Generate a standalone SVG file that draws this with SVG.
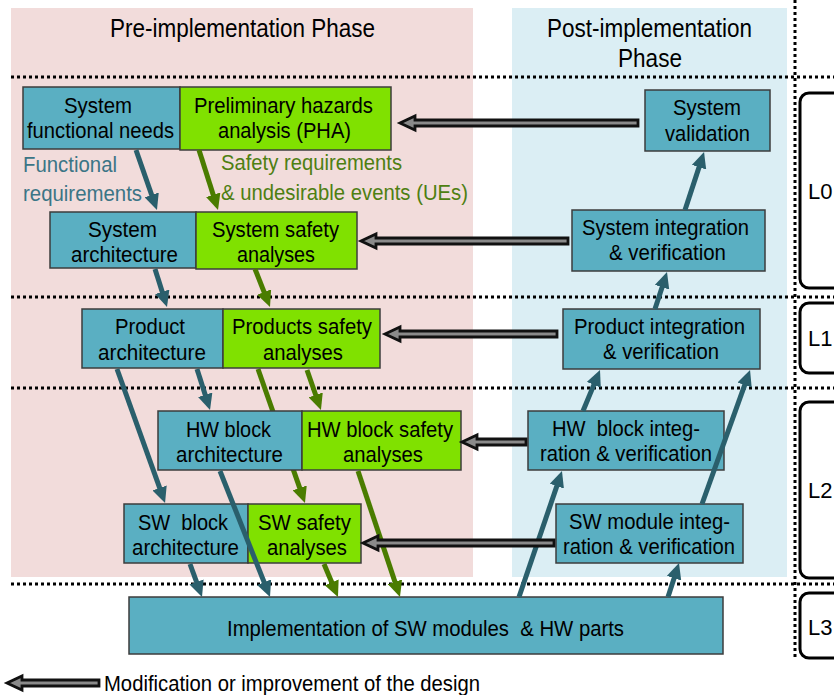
<svg xmlns="http://www.w3.org/2000/svg" width="834" height="695" viewBox="0 0 834 695">
<defs>
<style>
text{font-family:"Liberation Sans",Arial,sans-serif;fill:#000;white-space:pre}
.t{font-size:22px}
.h{font-size:26px}
.b{fill:#5aafc2;stroke:#3c3c3c;stroke-width:1.5}
.g{fill:#80e100;stroke:#3c3c3c;stroke-width:1.5}
.dot{stroke:#000;stroke-width:3;stroke-dasharray:3 3;fill:none}
.br{fill:none;stroke:#000;stroke-width:3}
.ta{stroke:#2a5f6c;stroke-width:5;fill:none;marker-end:url(#mt)}
.ga{stroke:#4a7c00;stroke-width:5;fill:none;marker-end:url(#mg)}
.mod{fill:#8a8a8a;stroke:#111;stroke-width:2.8;stroke-linejoin:miter}
</style>
<marker id="mt" markerUnits="userSpaceOnUse" markerWidth="16" markerHeight="15" viewBox="0 0 16 15" refX="4" refY="7.5" orient="auto"><path d="M0,0 L16,7.5 L0,15 z" fill="#2a5f6c"/></marker>
<marker id="mg" markerUnits="userSpaceOnUse" markerWidth="16" markerHeight="15" viewBox="0 0 16 15" refX="4" refY="7.5" orient="auto"><path d="M0,0 L16,7.5 L0,15 z" fill="#4a7c00"/></marker>
</defs>
<rect width="834" height="695" fill="#fff"/>
<g id="phases">
<rect x="11" y="8" width="462" height="569" fill="#f2dcdb"/>
<rect x="512" y="8" width="275" height="569" fill="#dbeef4"/>
<text class="h" x="110" y="37" textLength="265" lengthAdjust="spacingAndGlyphs">Pre-implementation Phase</text>
<text class="h" x="547" y="37" textLength="205" lengthAdjust="spacingAndGlyphs">Post-implementation</text>
<text class="h" x="618" y="67" textLength="64" lengthAdjust="spacingAndGlyphs">Phase</text>
</g>
<g id="levels">
<line class="dot" x1="11" y1="77" x2="834" y2="77"/>
<line class="dot" x1="11" y1="297" x2="834" y2="297"/>
<line class="dot" x1="11" y1="388" x2="834" y2="388"/>
<line class="dot" x1="11" y1="584" x2="834" y2="584"/>
<line class="dot" x1="795" y1="0" x2="795" y2="660"/>
<rect class="br" x="800" y="93" width="50" height="195" rx="9"/>
<rect class="br" x="800" y="303" width="50" height="70" rx="9"/>
<rect class="br" x="800" y="402" width="50" height="176" rx="9"/>
<rect class="br" x="800" y="593" width="50" height="65" rx="9"/>
<text class="t" x="808" y="199">L0</text>
<text class="t" x="808" y="346">L1</text>
<text class="t" x="808" y="498">L2</text>
<text class="t" x="808" y="635">L3</text>
</g>
<g id="connectors-back">
<line class="ga" x1="258" y1="369" x2="301" y2="491.7"/>
</g>
<g id="n1"><rect class="b" x="23" y="87" width="157" height="62"/>
<text class="t" x="64" y="113" textLength="68" lengthAdjust="spacingAndGlyphs">System</text>
<text class="t" x="27" y="138" textLength="147" lengthAdjust="spacingAndGlyphs">functional needs</text></g>
<g id="n2"><rect class="g" x="180" y="87" width="211" height="63"/>
<text class="t" x="194" y="113" textLength="179" lengthAdjust="spacingAndGlyphs">Preliminary hazards</text>
<text class="t" x="218" y="138" textLength="133" lengthAdjust="spacingAndGlyphs">analysis (PHA)</text></g>
<g id="n3"><rect class="b" x="50" y="212" width="146" height="56"/>
<text class="t" x="88" y="237" textLength="69" lengthAdjust="spacingAndGlyphs">System</text>
<text class="t" x="71" y="262" textLength="107" lengthAdjust="spacingAndGlyphs">architecture</text></g>
<g id="n4"><rect class="g" x="196" y="212" width="161" height="57"/>
<text class="t" x="212" y="237" textLength="127" lengthAdjust="spacingAndGlyphs">System safety</text>
<text class="t" x="237" y="262" textLength="78" lengthAdjust="spacingAndGlyphs">analyses</text></g>
<g id="n5"><rect class="b" x="645" y="90" width="125" height="61"/>
<text class="t" x="673" y="115" textLength="68" lengthAdjust="spacingAndGlyphs">System</text>
<text class="t" x="665" y="141" textLength="85" lengthAdjust="spacingAndGlyphs">validation</text></g>
<g id="n6"><rect class="b" x="572" y="210" width="193" height="61"/>
<text class="t" x="582" y="235" textLength="167" lengthAdjust="spacingAndGlyphs">System integration</text>
<text class="t" x="609" y="260" textLength="117" lengthAdjust="spacingAndGlyphs">&amp; verification</text></g>
<g id="n7"><rect class="b" x="82" y="309" width="141" height="59"/>
<text class="t" x="115" y="334" textLength="70" lengthAdjust="spacingAndGlyphs">Product</text>
<text class="t" x="98" y="360" textLength="108" lengthAdjust="spacingAndGlyphs">architecture</text></g>
<g id="n8"><rect class="g" x="223" y="309" width="157" height="59"/>
<text class="t" x="232" y="334" textLength="140" lengthAdjust="spacingAndGlyphs">Products safety</text>
<text class="t" x="263" y="360" textLength="80" lengthAdjust="spacingAndGlyphs">analyses</text></g>
<g id="n9"><rect class="b" x="563" y="309" width="197" height="60"/>
<text class="t" x="574" y="334" textLength="171" lengthAdjust="spacingAndGlyphs">Product integration</text>
<text class="t" x="603" y="359" textLength="116" lengthAdjust="spacingAndGlyphs">&amp; verification</text></g>
<g id="n10"><rect class="b" x="158" y="411" width="144" height="59"/>
<text class="t" x="186" y="437" textLength="85" lengthAdjust="spacingAndGlyphs">HW block</text>
<text class="t" x="176" y="462" textLength="107" lengthAdjust="spacingAndGlyphs">architecture</text></g>
<g id="n11"><rect class="g" x="302" y="411" width="159" height="59"/>
<text class="t" x="307" y="437" textLength="146" lengthAdjust="spacingAndGlyphs">HW block safety</text>
<text class="t" x="343" y="462" textLength="80" lengthAdjust="spacingAndGlyphs">analyses</text></g>
<g id="n12"><rect class="b" x="528" y="411" width="196" height="59"/>
<text class="t" x="552" y="436" textLength="148" lengthAdjust="spacingAndGlyphs">HW  block integ-</text>
<text class="t" x="540" y="461" textLength="172" lengthAdjust="spacingAndGlyphs">ration &amp; verification</text></g>
<g id="n13"><rect class="b" x="124" y="504" width="124" height="59"/>
<text class="t" x="138" y="530" textLength="90" lengthAdjust="spacingAndGlyphs">SW  block</text>
<text class="t" x="132" y="555" textLength="107" lengthAdjust="spacingAndGlyphs">architecture</text></g>
<g id="n14"><rect class="g" x="248" y="504" width="113" height="59"/>
<text class="t" x="258" y="530" textLength="93" lengthAdjust="spacingAndGlyphs">SW safety</text>
<text class="t" x="267" y="555" textLength="80" lengthAdjust="spacingAndGlyphs">analyses</text></g>
<g id="n15"><rect class="b" x="556" y="504" width="187" height="59"/>
<text class="t" x="569" y="529" textLength="161" lengthAdjust="spacingAndGlyphs">SW module integ-</text>
<text class="t" x="563" y="554" textLength="172" lengthAdjust="spacingAndGlyphs">ration &amp; verification</text></g>
<g id="n16"><rect class="b" x="129" y="597" width="594" height="57"/>
<text class="t" x="227" y="636" textLength="397" lengthAdjust="spacingAndGlyphs">Implementation of SW modules  &amp; HW parts</text></g>
<g id="labels">
<text class="t" x="23" y="172" textLength="94" lengthAdjust="spacingAndGlyphs" style="fill:#3b7586">Functional</text>
<text class="t" x="23" y="201" textLength="119" lengthAdjust="spacingAndGlyphs" style="fill:#3b7586">requirements</text>
<text class="t" x="221" y="170" textLength="181" lengthAdjust="spacingAndGlyphs" style="fill:#4e7f12">Safety requirements</text>
<text class="t" x="221" y="200" textLength="247" lengthAdjust="spacingAndGlyphs" style="fill:#4e7f12">&amp; undesirable events (UEs)</text>
</g>
<g id="connectors">
<line class="ta" x1="136" y1="150" x2="153" y2="198.7"/>
<line class="ta" x1="155" y1="269" x2="163.4" y2="295.6"/>
<line class="ta" x1="197" y1="369" x2="206.4" y2="398.6"/>
<line class="ta" x1="117" y1="369" x2="161" y2="491.7"/>
<line class="ta" x1="220" y1="471" x2="265.6" y2="585.9"/>
<line class="ta" x1="190" y1="564" x2="197.9" y2="585.7"/>
<line class="ta" x1="519" y1="597" x2="558.1" y2="482.4"/>
<line class="ta" x1="668" y1="597" x2="675.3" y2="574.4"/>
<line class="ta" x1="702" y1="504" x2="746" y2="381.3"/>
<line class="ta" x1="583" y1="411" x2="595.4" y2="381.1"/>
<line class="ta" x1="655" y1="309" x2="663.3" y2="283.4"/>
<line class="ta" x1="685" y1="210" x2="700.3" y2="163.4"/>
<line class="ga" x1="199" y1="150" x2="214.4" y2="198.6"/>
<line class="ga" x1="255" y1="269" x2="265.6" y2="295.8"/>
<line class="ga" x1="307" y1="370" x2="317" y2="398.7"/>
<line class="ga" x1="358" y1="471" x2="396.2" y2="585.6"/>
<line class="ga" x1="324" y1="564" x2="333.3" y2="586"/>
<polygon class="mod" points="400,123 415,116 415,120 638,120 638,126 415,126 415,130"/>
<polygon class="mod" points="361,241 376,234 376,238 568,238 568,244 376,244 376,248"/>
<polygon class="mod" points="385,334 400,327 400,331 557,331 557,337 400,337 400,341"/>
<polygon class="mod" points="462,442 477,435 477,439 526,439 526,445 477,445 477,449"/>
<polygon class="mod" points="363,543 378,536 378,540 554,540 554,546 378,546 378,550"/>
</g>
<g id="legend">
<polygon class="mod" points="7,683 22,676 22,680 99,680 99,686 22,686 22,690"/>
<text class="t" x="104" y="691" textLength="376" lengthAdjust="spacingAndGlyphs">Modification or improvement of the design</text>
</g>
</svg>
